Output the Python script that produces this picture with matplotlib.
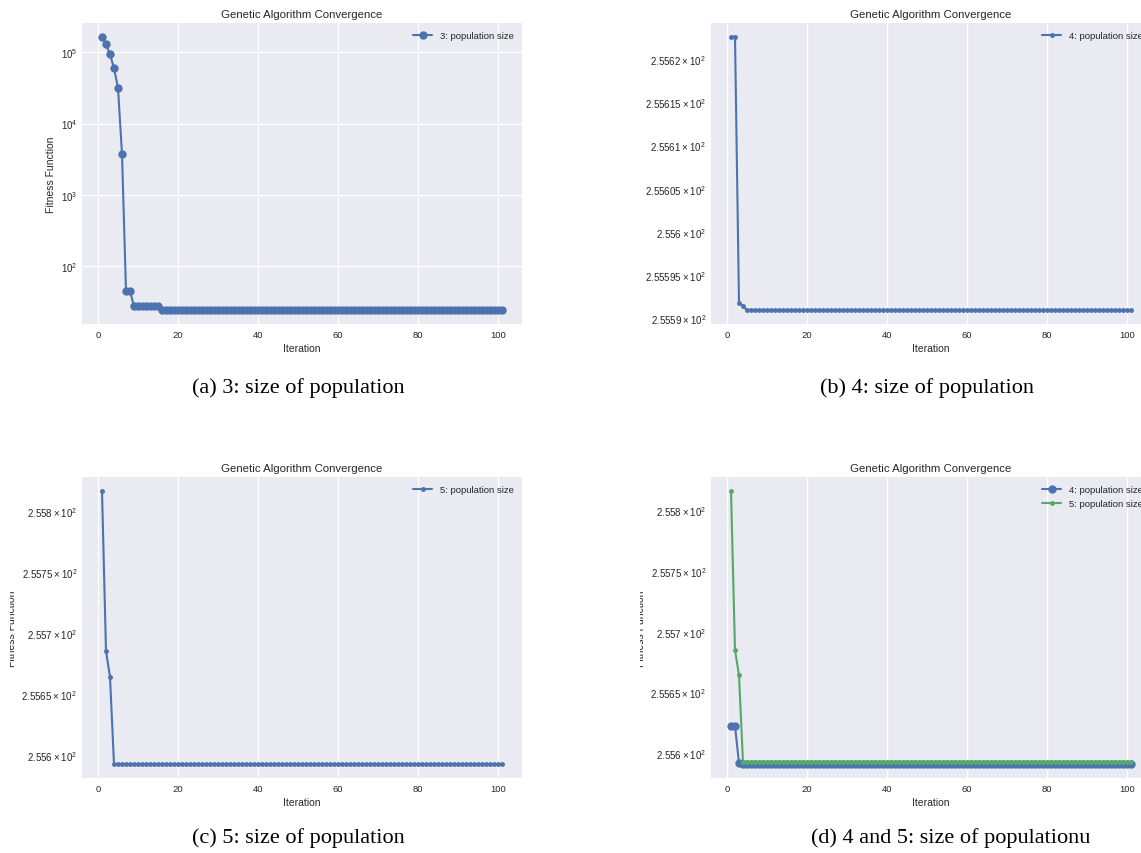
import matplotlib.pyplot as plt
from matplotlib.transforms import Bbox, TransformedBbox

# Tamano de la figura en pixeles (dpi 100)
W, H = 1141, 854

# Datos: valor de la funcion fitness por iteracion
iteraciones = list(range(1, 102))
pop3 = [166000, 130000, 94000, 60000, 31600, 3750, 44.5, 44.5] + [27.0] * 7 + [23.8] * 86
pop4 = [255.6226, 255.6226, 255.5918, 255.5914] + [255.5909] * 97
pop5 = [255.8164, 255.685, 255.6642] + [255.5925] * 98

titulo = "Genetic Algorithm Convergence"
etiquetas = ["3: population size", "4: population size", "5: population size"]
subtitulos = ["(a) 3: size of population", "(b) 4: size of population",
              "(c) 5: size of population", "(d) 4 and 5: size of populationu"]

AZUL = "#4C72B0"
VERDE = "#55A868"

plt.style.use("seaborn-v0_8-darkgrid")
plt.rcParams.update({
    "font.family": "sans-serif",
    "font.sans-serif": ["Liberation Sans", "DejaVu Sans"],
    "axes.titlesize": 8.2,
    "axes.labelsize": 7.5,
    "xtick.labelsize": 6.8,
    "ytick.labelsize": 7,
    "legend.fontsize": 6.8,
    "xtick.major.pad": 4.5,
    "ytick.major.pad": 3.5,
    "ytick.minor.pad": 3.5,
    "xtick.major.size": 0,
    "ytick.major.size": 0,
    "ytick.minor.size": 0,
    "axes.titlepad": 4,
    "axes.labelpad": 3,
    "grid.linewidth": 0.9,
    "legend.frameon": False,
})

fig = plt.figure(figsize=(W / 100, H / 100), dpi=100)


def crear_panel(izq, arriba, recorte=None):
    # Ejes con posicion en pixeles (izquierda, borde superior)
    ax = fig.add_axes([izq / W, 1 - (arriba + 301) / H, 440 / W, 301 / H])
    ax.set_yscale("log")
    ax.set_title(titulo)
    ax.set_xlabel("Iteration")
    ax.set_ylabel("Fitness Function")
    if recorte is not None:
        # La imagen original estaba recortada a la izquierda
        caja = TransformedBbox(Bbox.from_extents(recorte / W, 0, 1, 1), fig.transFigure)
        ax.yaxis.label.set_clip_box(caja)
        ax.yaxis.label.set_clip_on(True)
    return ax


# (a)
ax1 = crear_panel(82, 24)
ax1.plot(iteraciones, pop3, marker="o", color=AZUL, linewidth=1.5, markersize=5,
         label=etiquetas[0])
ax1.legend(loc="upper right")

# (b)
ax2 = crear_panel(711, 24, recorte=640)
ax2.plot(iteraciones, pop4, marker=".", color=AZUL, linewidth=1.5, markersize=5,
         label=etiquetas[1])
ax2.legend(loc="upper right")

# (c)
ax3 = crear_panel(82, 478, recorte=10)
ax3.plot(iteraciones, pop5, marker=".", color=AZUL, linewidth=1.5, markersize=5,
         label=etiquetas[2])
ax3.legend(loc="upper right")

# (d)
ax4 = crear_panel(711, 478, recorte=640)
ax4.plot(iteraciones, pop4, marker="o", color=AZUL, linewidth=1.5, markersize=5,
         label=etiquetas[1])
ax4.plot(iteraciones, pop5, marker=".", color=VERDE, linewidth=1.5, markersize=5,
         label=etiquetas[2])
ax4.legend(loc="upper right")

# Subtitulos de cada panel
posiciones = [(298, 388), (927, 388), (298, 838), (951, 838)]
for texto, (px, py) in zip(subtitulos, posiciones):
    fig.text(px / W, 1 - py / H, texto, ha="center", va="center",
             family="Liberation Serif", fontsize=16, color="black")

fig.savefig("out.png", dpi=100)
